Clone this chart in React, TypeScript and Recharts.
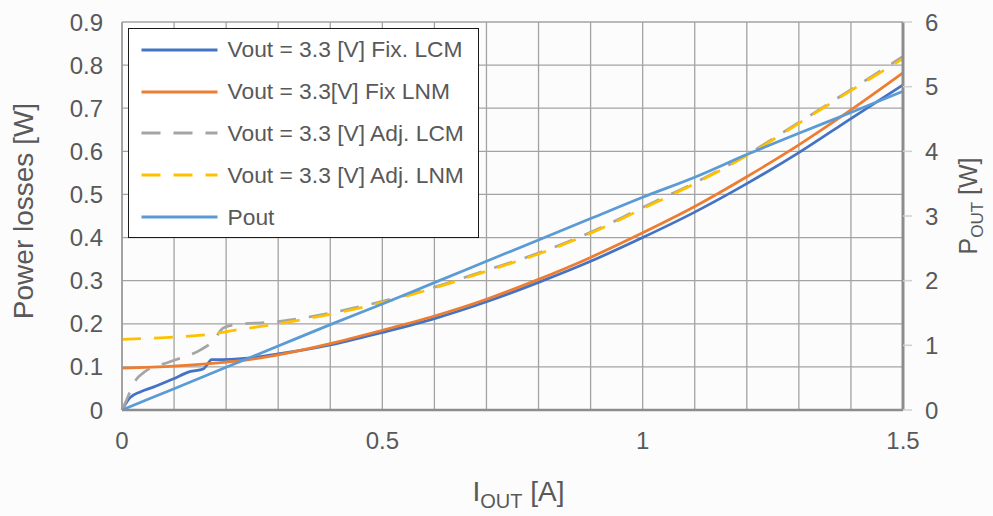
import { CartesianGrid, Label, Legend, Line, LineChart, XAxis, YAxis } from 'recharts'

const FONT = '"Liberation Sans", Arial, sans-serif'
const TEXT = '#595959'

// tick values
const currentTicks = [0, 0.1, 0.2, 0.3, 0.4, 0.5, 0.6, 0.7, 0.8, 0.9, 1, 1.1, 1.2, 1.3, 1.4, 1.5]
const currentLabels = [0, 0.5, 1, 1.5]
const lossTicks = [0, 0.1, 0.2, 0.3, 0.4, 0.5, 0.6, 0.7, 0.8, 0.9]
const poutTicks = [0, 1, 2, 3, 4, 5, 6]

// Vout = 3.3 [V] Fix. LCM
const fixLcmCurrent = [0, 0.015, 0.035, 0.06, 0.098, 0.13, 0.156, 0.163, 0.172, 0.19, 0.23, 0.3, 0.4, 0.5, 0.6, 0.7, 0.8, 0.9, 1.0, 1.1, 1.2, 1.3, 1.4, 1.5]
const fixLcmLoss = [0, 0.028, 0.042, 0.053, 0.072, 0.089, 0.095, 0.104, 0.117, 0.117, 0.119, 0.13, 0.151, 0.18, 0.212, 0.251, 0.296, 0.345, 0.4, 0.459, 0.525, 0.597, 0.676, 0.754]

// Vout = 3.3[V] Fix LNM
const fixLnmCurrent = [0, 0.1, 0.2, 0.25, 0.3, 0.4, 0.5, 0.6, 0.7, 0.8, 0.9, 1.0, 1.1, 1.2, 1.3, 1.4, 1.5]
const fixLnmLoss = [0.097, 0.102, 0.111, 0.118, 0.128, 0.154, 0.185, 0.218, 0.257, 0.303, 0.354, 0.411, 0.472, 0.541, 0.615, 0.696, 0.782]

// Vout = 3.3 [V] Adj. LCM
const adjLcmCurrent = [0, 0.006, 0.028, 0.044, 0.092, 0.15, 0.175, 0.194, 0.213, 0.3, 0.4, 0.5, 0.6, 0.7, 0.8, 0.9, 1.0, 1.1, 1.2, 1.3, 1.4, 1.5]
const adjLcmLoss = [0, 0.016, 0.072, 0.089, 0.112, 0.139, 0.16, 0.19, 0.197, 0.205, 0.225, 0.252, 0.285, 0.324, 0.364, 0.412, 0.47, 0.527, 0.592, 0.667, 0.743, 0.82]

// Vout = 3.3 [V] Adj. LNM
const adjLnmCurrent = [0, 0.083, 0.163, 0.227, 0.3, 0.4, 0.5, 0.6, 0.7, 0.8, 0.9, 1.0, 1.1, 1.2, 1.3, 1.4, 1.5]
const adjLnmLoss = [0.164, 0.168, 0.175, 0.187, 0.2, 0.222, 0.249, 0.283, 0.322, 0.362, 0.41, 0.467, 0.525, 0.59, 0.665, 0.741, 0.815]

// Pout
const poutCurrent = [0, 0.1, 0.2, 0.3, 0.4, 0.5, 0.6, 0.7, 0.8, 0.9, 1.0, 1.1, 1.2, 1.3, 1.4, 1.5]
const poutWatts = [0, 0.33, 0.66, 0.99, 1.32, 1.64, 1.97, 2.3, 2.63, 2.96, 3.29, 3.6, 3.95, 4.28, 4.6, 4.93]

const toPoints = (xs: number[], ys: number[]) => xs.map((x, i) => ({ i: x, v: ys[i] }))

const series = [
  { name: 'Vout = 3.3 [V] Fix. LCM', color: '#4472C4', dash: undefined, axis: 'left', data: toPoints(fixLcmCurrent, fixLcmLoss) },
  { name: 'Vout = 3.3[V] Fix LNM', color: '#ED7D31', dash: undefined, axis: 'left', data: toPoints(fixLnmCurrent, fixLnmLoss) },
  { name: 'Vout = 3.3 [V] Adj. LCM', color: '#A5A5A5', dash: '19 13', axis: 'left', data: toPoints(adjLcmCurrent, adjLcmLoss) },
  { name: 'Vout = 3.3 [V] Adj. LNM', color: '#FFC000', dash: '19 13', axis: 'left', data: toPoints(adjLnmCurrent, adjLnmLoss) },
  { name: 'Pout', color: '#5B9BD5', dash: undefined, axis: 'right', data: toPoints(poutCurrent, poutWatts) },
]

function LegendBox() {
  return (
    <div
      style={{
        width: 351,
        height: 210,
        boxSizing: 'border-box',
        border: '1.5px solid #1a1a1a',
        background: '#fff',
        fontFamily: FONT,
      }}
    >
      {series.map((s) => (
        <div key={s.name} style={{ display: 'flex', alignItems: 'center', height: 41.8 }}>
          <svg width={98.5} height={10} style={{ flex: 'none' }}>
            <line x1={12.5} x2={88.5} y1={5} y2={5} stroke={s.color} strokeWidth={3} strokeDasharray={s.dash} />
          </svg>
          <span style={{ fontSize: 22.8, color: TEXT, whiteSpace: 'nowrap' }}>{s.name}</span>
        </div>
      ))}
    </div>
  )
}

export default function App() {
  return (
    <div style={{ position: 'absolute', left: 0, top: 0, width: 993, height: 516, background: '#FCFCFC' }}>
      <LineChart width={993} height={516} margin={{ top: 22, right: 0, bottom: 0, left: 0 }}>
        <CartesianGrid yAxisId="left" stroke="#A3A3A3" strokeWidth={1.3} />
        <XAxis
          dataKey="i"
          type="number"
          domain={[0, 1.5]}
          ticks={currentTicks}
          interval={0}
          height={106}
          tickLine={false}
          tickSize={0}
          tickMargin={22}
          axisLine={{ stroke: '#8C8C8C', strokeWidth: 2.5 }}
          tick={{ fill: TEXT, fontSize: 24, fontFamily: FONT }}
          tickFormatter={(v: number) => (currentLabels.some((l) => Math.abs(l - v) < 1e-9) ? String(v) : '')}
        >
          <Label
            content={(props: any) => {
              const vb = props.viewBox ?? { x: 122, y: 410, width: 781 }
              return (
                <text x={vb.x + vb.width / 2 + 6} y={vb.y + 91} textAnchor="middle" fill={TEXT} fontFamily={FONT} fontSize={28}>
                  I<tspan fontSize={20} dy={7}>OUT</tspan>
                  <tspan dy={-7}> [A]</tspan>
                </text>
              )
            }}
          />
        </XAxis>
        <YAxis
          yAxisId="left"
          domain={[0, 0.9]}
          ticks={lossTicks}
          interval={0}
          width={122}
          tickLine={false}
          tickSize={0}
          tickMargin={19}
          axisLine={{ stroke: '#999999', strokeWidth: 1.5 }}
          tick={{ fill: TEXT, fontSize: 24, fontFamily: FONT }}
        >
          <Label
            content={(props: any) => {
              const vb = props.viewBox ?? { x: 0, y: 22, height: 388 }
              const cy = vb.y + vb.height / 2 - 5
              return (
                <text x={33} y={cy} transform={`rotate(-90 33 ${cy})`} textAnchor="middle" fill={TEXT} fontFamily={FONT} fontSize={28}>
                  Power losses [W]
                </text>
              )
            }}
          />
        </YAxis>
        <YAxis
          yAxisId="right"
          orientation="right"
          domain={[0, 6]}
          ticks={poutTicks}
          interval={0}
          width={90}
          tickSize={9}
          tickMargin={13}
          tickLine={{ stroke: '#D0D0D0', strokeWidth: 1.5 }}
          axisLine={{ stroke: '#8C8C8C', strokeWidth: 3 }}
          tick={{ fill: TEXT, fontSize: 24, fontFamily: FONT }}
        >
          <Label
            content={(props: any) => {
              const vb = props.viewBox ?? { x: 903, y: 22, height: 388 }
              const cy = vb.y + vb.height / 2 - 10
              const bx = vb.x + 74
              return (
                <text x={bx} y={cy} transform={`rotate(-90 ${bx} ${cy})`} textAnchor="middle" fill={TEXT} fontFamily={FONT} fontSize={25}>
                  P<tspan fontSize={17} dy={6}>OUT</tspan>
                  <tspan dy={-6}> [W]</tspan>
                </text>
              )
            }}
          />
        </YAxis>
        <Legend
          layout="vertical"
          align="center"
          verticalAlign="middle"
          wrapperStyle={{ position: 'absolute', left: 128, top: 28, width: 351, height: 210 }}
          content={() => <LegendBox />}
        />
        {series.map((s) => (
          <Line
            key={s.name}
            name={s.name}
            data={s.data}
            dataKey="v"
            yAxisId={s.axis}
            type="monotone"
            stroke={s.color}
            strokeWidth={2.75}
            strokeDasharray={s.dash}
            dot={false}
            activeDot={false}
            isAnimationActive={false}
          />
        ))}
      </LineChart>
    </div>
  )
}
